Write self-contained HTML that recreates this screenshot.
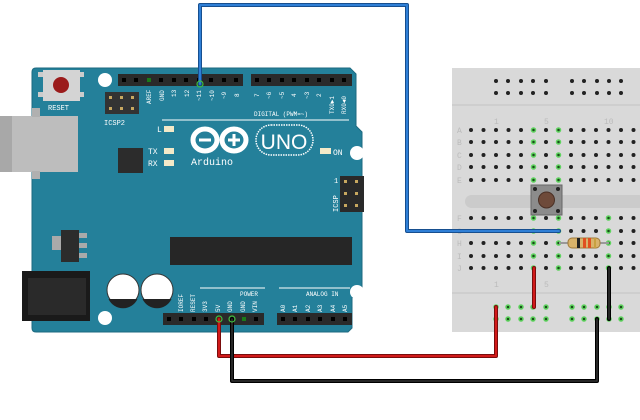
<!DOCTYPE html>
<html><head><meta charset="utf-8"><style>html,body{margin:0;padding:0;background:#fff}svg{display:block}</style></head>
<body>
<svg width="640" height="420" viewBox="0 0 640 420" xmlns="http://www.w3.org/2000/svg" font-family="Liberation Mono, monospace">
<rect width="640" height="420" fill="#fff"/>
<rect x="452" y="68" width="188" height="264" fill="#d9d9d9"/>
<line x1="452" y1="105" x2="640" y2="105" stroke="#c4c4c4" stroke-width="1"/>
<line x1="452" y1="293" x2="640" y2="293" stroke="#c4c4c4" stroke-width="1"/>
<rect x="465" y="195" width="180" height="13" rx="6.5" fill="#cbcbcb"/>
<g fill="#222">
<circle cx="496" cy="81" r="2"/><circle cx="508" cy="81" r="2"/><circle cx="521" cy="81" r="2"/><circle cx="533" cy="81" r="2"/><circle cx="546" cy="81" r="2"/>
<circle cx="572" cy="81" r="2"/><circle cx="584" cy="81" r="2"/><circle cx="597" cy="81" r="2"/><circle cx="609" cy="81" r="2"/><circle cx="621" cy="81" r="2"/>
<circle cx="496" cy="93" r="2"/><circle cx="508" cy="93" r="2"/><circle cx="521" cy="93" r="2"/><circle cx="533" cy="93" r="2"/><circle cx="546" cy="93" r="2"/>
<circle cx="572" cy="93" r="2"/><circle cx="584" cy="93" r="2"/><circle cx="597" cy="93" r="2"/><circle cx="609" cy="93" r="2"/><circle cx="621" cy="93" r="2"/>
</g>
<g fill="#1a4d1a" stroke="#5fd35f" stroke-width="1.5">
<circle cx="496" cy="307" r="2"/><circle cx="508" cy="307" r="2"/><circle cx="521" cy="307" r="2"/><circle cx="533" cy="307" r="2"/><circle cx="546" cy="307" r="2"/>
<circle cx="572" cy="307" r="2"/><circle cx="584" cy="307" r="2"/><circle cx="597" cy="307" r="2"/><circle cx="609" cy="307" r="2"/><circle cx="621" cy="307" r="2"/>
<circle cx="496" cy="319" r="2"/><circle cx="508" cy="319" r="2"/><circle cx="521" cy="319" r="2"/><circle cx="533" cy="319" r="2"/><circle cx="546" cy="319" r="2"/>
<circle cx="572" cy="319" r="2"/><circle cx="584" cy="319" r="2"/><circle cx="597" cy="319" r="2"/><circle cx="609" cy="319" r="2"/><circle cx="621" cy="319" r="2"/>
</g>
<g id="main" fill="#222"></g>
<g font-size="8" fill="#bbb">
<text x="494" y="124">1</text><text x="544" y="124">5</text><text x="604" y="124">10</text>
<text x="494" y="287">1</text><text x="544" y="287">5</text>
<text x="457" y="133">A</text><text x="457" y="145">B</text><text x="457" y="158">C</text><text x="457" y="170">D</text><text x="457" y="183">E</text>
<text x="457" y="221">F</text><text x="457" y="234">G</text><text x="457" y="246">H</text><text x="457" y="259">I</text><text x="457" y="271">J</text>
</g>
<script>
(function(){
var g=document.getElementById('main'),ns='http://www.w3.org/2000/svg';
var ys=[130,142,155,167,180,218,231,243,256,268];
for(var r=0;r<10;r++)for(var k=0;k<14;k++){
var x=471+12.5*k,y=ys[r],c=document.createElementNS(ns,'circle');
c.setAttribute('cx',x);c.setAttribute('cy',y);c.setAttribute('r',2);
var green=(k==5||k==7)||(r>=5&&k==11);
if(green){c.setAttribute('fill','#1a4d1a');c.setAttribute('stroke','#5fd35f');c.setAttribute('stroke-width','1.5');}
g.appendChild(c);}
})();
</script>
<rect x="531" y="185" width="31" height="30" fill="#8c8c8c" stroke="#666"/>
<circle cx="535" cy="189" r="2" fill="#222"/><circle cx="558" cy="189" r="2" fill="#222"/><circle cx="535" cy="211" r="2" fill="#222"/><circle cx="558" cy="211" r="2" fill="#222"/>
<circle cx="546.5" cy="200" r="8" fill="#6e4a3a" stroke="#4a3025"/>
<line x1="559" y1="243" x2="609" y2="243" stroke="#999" stroke-width="2"/>
<rect x="568" y="238" width="32" height="10" rx="4" fill="#d9b36a" stroke="#a07a3a"/>
<rect x="577" y="238" width="3" height="10" fill="#222"/><rect x="583" y="238" width="3" height="10" fill="#e05020"/><rect x="588" y="238" width="3" height="10" fill="#e05020"/><rect x="594" y="238" width="2" height="10" fill="#c8a040"/>

<path d="M36,68 H350 L356,74 V126 L362,132 V288 L352,298 V328 L348,332 H36 Q32,332 32,328 V72 Q32,68 36,68 Z" fill="#24809a" stroke="#1d6a80"/>
<circle cx="105" cy="80" r="7" fill="#fff"/><circle cx="357" cy="153" r="7" fill="#fff"/><circle cx="357" cy="292" r="7" fill="#fff"/><circle cx="105" cy="318" r="7" fill="#fff"/>
<rect x="38" y="72" width="6" height="5" fill="#ccc"/><rect x="38" y="92" width="6" height="5" fill="#ccc"/><rect x="78" y="72" width="6" height="5" fill="#ccc"/><rect x="78" y="92" width="6" height="5" fill="#ccc"/>
<rect x="43" y="70" width="37" height="31" fill="#d4d4d4"/>
<circle cx="61" cy="85" r="8" fill="#9b1c1c"/>
<text x="48" y="110" font-size="7" fill="#fff">RESET</text>
<rect x="0" y="116" width="78" height="56" fill="#bdbdbd"/>
<rect x="0" y="116" width="12" height="56" fill="#a8a8a8"/>
<rect x="32" y="108" width="8" height="9" fill="#b0b0b0"/><rect x="32" y="171" width="8" height="8" fill="#b0b0b0"/>
<rect x="105" y="92" width="34" height="22" fill="#333"/>
<g fill="#c8a860"><rect x="109" y="96" width="3" height="3"/><rect x="120" y="96" width="3" height="3"/><rect x="131" y="96" width="3" height="3"/><rect x="109" y="107" width="3" height="3"/><rect x="120" y="107" width="3" height="3"/><rect x="131" y="107" width="3" height="3"/></g>
<text x="104" y="125" font-size="7" fill="#fff">ICSP2</text>
<rect x="118" y="74" width="125" height="12" fill="#2a2a2a"/>
<rect x="251" y="74" width="101" height="12" fill="#2a2a2a"/>
<g fill="#000">
<rect x="122" y="78" width="4" height="4"/><rect x="134" y="78" width="4" height="4"/><rect x="147" y="78" width="4" height="4" fill="#1a7a1a"/><rect x="159" y="78" width="4" height="4"/><rect x="172" y="78" width="4" height="4"/><rect x="184" y="78" width="4" height="4"/><rect x="197" y="78" width="4" height="4"/><rect x="209" y="78" width="4" height="4"/><rect x="222" y="78" width="4" height="4"/><rect x="234" y="78" width="4" height="4"/>
<rect x="255" y="78" width="4" height="4"/><rect x="267" y="78" width="4" height="4"/><rect x="280" y="78" width="4" height="4"/><rect x="292" y="78" width="4" height="4"/><rect x="305" y="78" width="4" height="4"/><rect x="317" y="78" width="4" height="4"/><rect x="330" y="78" width="4" height="4"/><rect x="342" y="78" width="4" height="4"/>
</g>
<g font-size="6" fill="#fff">
<text transform="translate(151,104) rotate(-90)">AREF</text><text transform="translate(164,101) rotate(-90)">GND</text><text transform="translate(176,97) rotate(-90)">13</text><text transform="translate(189,97) rotate(-90)">12</text><text transform="translate(201,101) rotate(-90)">~11</text><text transform="translate(214,101) rotate(-90)">~10</text><text transform="translate(226,99) rotate(-90)">~9</text><text transform="translate(239,97) rotate(-90)">8</text>
<text transform="translate(259,97) rotate(-90)">7</text><text transform="translate(271,99) rotate(-90)">~6</text><text transform="translate(284,99) rotate(-90)">~5</text><text transform="translate(296,97) rotate(-90)">4</text><text transform="translate(309,99) rotate(-90)">~3</text><text transform="translate(321,97) rotate(-90)">2</text><text transform="translate(334,114) rotate(-90)">TX0►1</text><text transform="translate(346,114) rotate(-90)">RX0◄0</text>
<text x="254" y="116">DIGITAL (PWM=~)</text>
</g>
<line x1="162" y1="120" x2="349" y2="120" stroke="#fff" stroke-width="1"/>
<text x="157" y="132" font-size="8" fill="#fff">L</text><rect x="164" y="126" width="10" height="6" fill="#f3e9c8"/>
<text x="148" y="154" font-size="8" fill="#fff">TX</text><rect x="164" y="148" width="10" height="6" fill="#f3e9c8"/>
<text x="148" y="166" font-size="8" fill="#fff">RX</text><rect x="164" y="160" width="10" height="6" fill="#f3e9c8"/>
<rect x="320" y="148" width="11" height="6" fill="#f3e9c8"/><text x="333" y="155" font-size="8" fill="#fff">ON</text>
<rect x="118" y="148" width="25" height="25" fill="#2c2c2c"/>
<g fill="none" stroke="#fff" stroke-width="5"><ellipse cx="205" cy="140" rx="12" ry="11"/><ellipse cx="234" cy="140" rx="12" ry="11"/></g>
<rect x="199" y="138.5" width="12" height="3" fill="#fff"/><rect x="228" y="138.5" width="12" height="3" fill="#fff"/><rect x="232.5" y="134" width="3" height="12" fill="#fff"/>
<text x="191" y="165" font-size="10" fill="#fff">Arduino</text>
<rect x="256" y="125" width="57" height="30" rx="15" fill="none" stroke="#fff" stroke-width="1.5" stroke-dasharray="1.5,1"/>
<text x="284" y="149" font-size="21" fill="#fff" text-anchor="middle" font-family="Liberation Sans, sans-serif">UNO</text>
<rect x="340" y="176" width="24" height="36" fill="#2a2a2a"/>
<g fill="#c8a860"><rect x="344" y="180" width="3" height="3"/><rect x="355" y="180" width="3" height="3"/><rect x="344" y="192" width="3" height="3"/><rect x="355" y="192" width="3" height="3"/><rect x="344" y="204" width="3" height="3"/><rect x="355" y="204" width="3" height="3"/></g>
<text x="334" y="183" font-size="7" fill="#fff">1</text>
<text transform="translate(338,212) rotate(-90)" font-size="7" fill="#fff">ICSP</text>
<rect x="52" y="236" width="9" height="14" fill="#aaa"/>
<rect x="61" y="230" width="18" height="32" fill="#2c2c2c"/>
<rect x="79" y="233" width="8" height="5" fill="#aaa"/><rect x="79" y="243" width="8" height="5" fill="#aaa"/><rect x="79" y="253" width="8" height="5" fill="#aaa"/>
<rect x="22" y="271" width="68" height="50" fill="#1a1a1a"/>
<rect x="28" y="278" width="58" height="37" fill="#2a2a2a"/>
<circle cx="123" cy="290" r="16" fill="#fff" stroke="#333"/><path d="M108.5,299 A16,16 0 0 0 137.5,299 Z" fill="#222"/>
<circle cx="157" cy="290" r="16" fill="#fff" stroke="#333"/><path d="M142.5,299 A16,16 0 0 0 171.5,299 Z" fill="#222"/>
<rect x="170" y="237" width="182" height="28" fill="#262626"/>
<line x1="200" y1="288" x2="265" y2="288" stroke="#fff"/><line x1="279" y1="288" x2="350" y2="288" stroke="#fff"/>
<g font-size="6" fill="#fff">
<text x="240" y="296">POWER</text><text x="306" y="296">ANALOG IN</text>
<text transform="translate(183,312) rotate(-90)">IOREF</text><text transform="translate(195,312) rotate(-90)">RESET</text><text transform="translate(207,312) rotate(-90)">3V3</text><text transform="translate(220,312) rotate(-90)">5V</text><text transform="translate(232,312) rotate(-90)">GND</text><text transform="translate(245,312) rotate(-90)">GND</text><text transform="translate(257,312) rotate(-90)">VIN</text>
<text transform="translate(285,312) rotate(-90)">A0</text><text transform="translate(297,312) rotate(-90)">A1</text><text transform="translate(310,312) rotate(-90)">A2</text><text transform="translate(322,312) rotate(-90)">A3</text><text transform="translate(335,312) rotate(-90)">A4</text><text transform="translate(347,312) rotate(-90)">A5</text>
</g>
<rect x="163" y="313" width="101" height="12" fill="#2a2a2a"/>
<rect x="277" y="313" width="75" height="12" fill="#2a2a2a"/>
<g fill="#000">
<rect x="167" y="317" width="4" height="4"/><rect x="179" y="317" width="4" height="4"/><rect x="192" y="317" width="4" height="4"/><rect x="204" y="317" width="4" height="4"/><rect x="242" y="317" width="4" height="4" fill="#1a7a1a"/><rect x="254" y="317" width="4" height="4"/>
<rect x="281" y="317" width="4" height="4"/><rect x="293" y="317" width="4" height="4"/><rect x="306" y="317" width="4" height="4"/><rect x="318" y="317" width="4" height="4"/><rect x="331" y="317" width="4" height="4"/><rect x="343" y="317" width="4" height="4"/>
</g>
<g fill="none" stroke-linejoin="round" stroke-linecap="round">
<polyline points="200,84 200,5 407,5 407,231 559,231" stroke="#174f8f" stroke-width="4"/>
<polyline points="200,84 200,5 407,5 407,231 559,231" stroke="#2f7fd6" stroke-width="2"/>
<polyline points="219,319 219,356 496,356 496,307" stroke="#7a0d0d" stroke-width="4"/>
<polyline points="219,319 219,356 496,356 496,307" stroke="#d11a1a" stroke-width="2"/>
<polyline points="534,268 534,307" stroke="#7a0d0d" stroke-width="4"/>
<polyline points="534,268 534,307" stroke="#d11a1a" stroke-width="2"/>
<polyline points="232,319 232,381 597,381 597,319" stroke="#000" stroke-width="4"/>
<polyline points="232,319 232,381 597,381 597,319" stroke="#333" stroke-width="1.5"/>
<polyline points="609,268 609,319" stroke="#000" stroke-width="4"/>
<polyline points="609,268 609,319" stroke="#333" stroke-width="1.5"/>
</g>
<g fill="none" stroke="#3fbf3f" stroke-width="1.2"><circle cx="200" cy="84" r="3"/><circle cx="219" cy="319" r="3"/><circle cx="232" cy="319" r="3"/></g>
</svg>
</body></html>
